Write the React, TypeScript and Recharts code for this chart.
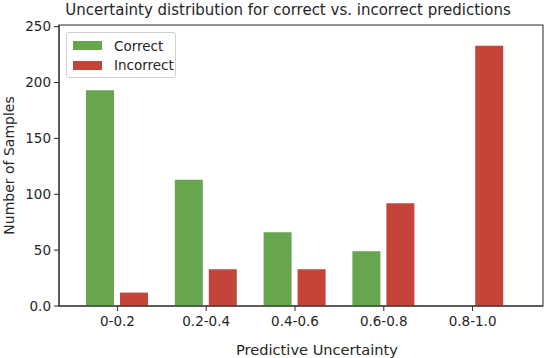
import React from "react";
import * as RC from "recharts";
import { BarChart, Bar, XAxis, YAxis } from "recharts";

const categories = ["0-0.2", "0.2-0.4", "0.4-0.6", "0.6-0.8", "0.8-1.0"];
const correctCounts = [193, 113, 66, 49, 0];
const incorrectCounts = [12, 33, 33, 92, 233];
const yTicks = [0, 50, 100, 150, 200, 250];

const GREEN = "#67a64e";
const RED = "#c4443a";
const INK = "#262626";
const FONT = "'DejaVu Sans', sans-serif";

const series = [
  { key: "correct", label: "Correct", color: GREEN },
  { key: "incorrect", label: "Incorrect", color: RED },
];

const data = categories.map((range, i) => ({
  range,
  correct: correctCounts[i],
  incorrect: incorrectCounts[i],
}));

// box around the plot area (matplotlib spines)
function Frame() {
  const hook: any = (RC as any).usePlotArea;
  const area = hook ? hook() : null;
  if (!area) return null;
  return (
    <rect
      x={area.x}
      y={area.y}
      width={area.width}
      height={area.height}
      fill="none"
      stroke={INK}
      strokeWidth={1}
    />
  );
}

function LegendBox() {
  return (
    <div
      style={{
        position: "absolute",
        left: 66,
        top: 32,
        width: 110,
        height: 46,
        border: "1px solid #d0d0d0",
        borderRadius: 3,
        background: "rgba(255,255,255,0.85)",
        fontFamily: FONT,
        fontSize: 13.5,
        color: INK,
        boxSizing: "border-box",
        paddingTop: 3,
      }}
    >
      {series.map((s) => (
        <div
          key={s.key}
          style={{ display: "flex", alignItems: "center", height: 19.5 }}
        >
          <span
            style={{
              display: "inline-block",
              width: 29,
              height: 9,
              marginLeft: 6,
              marginRight: 12,
              background: s.color,
            }}
          />
          <span>{s.label}</span>
        </div>
      ))}
    </div>
  );
}

export default function App() {
  const tickStyle = { fill: INK, fontSize: 13.5, fontFamily: FONT };
  return (
    <div
      style={{
        position: "absolute",
        left: 0,
        top: 0,
        width: 550,
        height: 358,
        background: "#fff",
      }}
    >
      <div
        style={{
          position: "absolute",
          left: 46,
          width: 484,
          top: 1,
          textAlign: "center",
          fontFamily: FONT,
          fontSize: 15,
          color: INK,
          whiteSpace: "nowrap",
        }}
      >
        Uncertainty distribution for correct vs. incorrect predictions
      </div>
      <div style={{ position: "absolute", left: 0, top: 0 }}>
        <BarChart
          width={550}
          height={358}
          data={data}
          margin={{ top: 25, right: 7, bottom: 0, left: 0 }}
          barSize={28}
          barGap={6}
        >
          <XAxis
            dataKey="range"
            height={52}
            padding={{ left: 14, right: 26 }}
            tick={tickStyle}
            tickSize={5}
            tickMargin={5}
            axisLine={{ stroke: INK }}
            tickLine={{ stroke: INK }}
            label={{
              value: "Predictive Uncertainty",
              position: "insideBottom",
              offset: 3,
              dx: 16,
              style: { fill: INK, fontSize: 14.6, fontFamily: FONT },
            }}
          />
          <YAxis
            width={59}
            domain={[0, 251.5]}
            ticks={yTicks}
            interval={0}
            allowDataOverflow
            tickFormatter={(v: number) => (v === 0 ? "0.0" : String(v))}
            tick={tickStyle}
            tickSize={5}
            tickMargin={3}
            axisLine={{ stroke: INK }}
            tickLine={{ stroke: INK }}
            label={{
              value: "Number of Samples",
              angle: -90,
              position: "insideLeft",
              offset: 9,
              style: {
                fill: INK,
                fontSize: 14,
                fontFamily: FONT,
                textAnchor: "middle",
              },
            }}
          />
          {series.map((s) => (
            <Bar
              key={s.key}
              dataKey={s.key}
              name={s.label}
              fill={s.color}
              isAnimationActive={false}
            />
          ))}
          <Frame />
        </BarChart>
      </div>
      <LegendBox />
    </div>
  );
}
